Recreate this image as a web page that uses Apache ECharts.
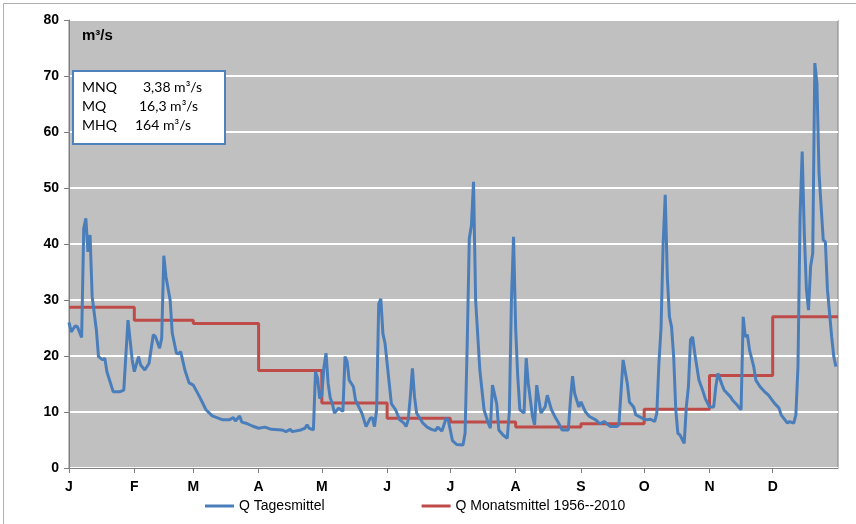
<!DOCTYPE html>
<html>
<head>
<meta charset="utf-8">
<script src="https://cdn.jsdelivr.net/npm/echarts@6/dist/echarts.min.js"></script>
<style>
html,body{margin:0;padding:0;background:#fff;}
#main{width:856px;height:524px;}
</style>
</head>
<body>
<div id="main"></div>
<script>
var monthLetters = ['J','F','M','A','M','J','J','A','S','O','N','D'];
var monthStarts = [0,31,59,90,120,151,181,212,243,273,304,334];
var monthlyMean = [28.7,26.4,25.8,17.4,11.6,8.9,8.2,7.3,7.9,10.5,16.5,27.0];

// day of year (0 = 1 Jan) and daily mean flow
var dailyDays = [0,1,3,4,6,7,8,9,10,11,13,14,16,17,18,21,24,26,28,30,31,33,34,36,38,40,41,43,44,45,46,48,49,51,52,53,55,57,59,62,65,68,73,76,78,79,81,82,84,87,90,93,96,101,103,105,106,110,112,113,114,116,117,118,119,120,121,122,123,124,125,126,128,129,130,131,132,133,135,136,139,141,143,144,145,146,147,148,149,150,152,153,155,157,159,160,161,162,163,164,165,168,170,172,174,175,177,179,180,182,184,187,188,189,190,191,192,193,195,197,199,200,201,203,204,206,208,209,210,211,212,213,214,216,217,218,220,221,222,224,226,227,229,231,232,234,237,238,239,240,242,243,245,247,250,252,254,257,260,261,263,265,266,268,269,272,274,276,278,279,280,281,282,283,284,285,286,287,288,289,290,292,293,294,295,296,297,299,301,302,304,306,307,308,310,311,314,315,317,318,319,320,321,322,323,325,326,328,330,332,334,335,337,338,341,342,344,345,346,347,348,349,350,351,352,353,354,355,356,358,359,360,362,363,364];
var dailyFlow = [26.0,24.3,25.4,25.2,23.3,42.8,44.6,38.6,41.6,30.6,24.6,19.9,19.3,19.6,17.2,13.6,13.6,13.9,26.4,19.3,17.2,19.9,18.4,17.5,18.7,23.8,23.5,21.4,23.2,37.9,34.2,30.0,24.1,20.5,20.4,20.8,17.5,15.2,14.8,12.7,10.4,9.3,8.6,8.6,9.0,8.4,9.3,8.2,8.0,7.5,7.1,7.3,6.9,6.8,6.5,6.9,6.5,6.8,7.1,7.7,7.1,6.8,17.2,16.0,12.4,13.0,18.0,20.5,15.1,12.5,11.5,9.8,10.7,10.4,10.1,19.9,19.0,15.7,14.5,12.1,9.8,7.4,8.9,9.0,7.4,10.4,29.3,30.2,24.0,22.3,15.1,11.5,10.4,8.6,8.0,7.4,8.6,12.7,17.8,12.7,9.8,8.0,7.3,6.9,6.7,7.3,6.6,8.9,8.6,4.9,4.2,4.1,6.2,22.0,41.0,43.3,51.1,30.0,17.5,10.4,8.0,7.1,14.8,11.5,6.8,5.9,5.3,10.0,30.0,41.3,25.0,16.3,10.4,9.8,19.6,15.1,9.2,7.7,14.8,9.8,10.9,13.0,10.4,8.9,8.3,6.8,6.8,12.1,16.4,13.3,10.9,11.8,10.1,9.2,8.6,7.9,8.3,7.4,7.4,7.7,19.3,15.1,11.8,10.9,9.5,8.9,8.6,8.7,8.3,9.8,18.7,25.0,40.0,48.8,34.0,27.0,25.2,19.9,10.4,6.2,5.9,4.4,10.9,14.5,22.9,23.4,20.5,15.7,13.6,12.4,10.9,10.9,14.5,16.9,14.8,13.9,12.7,12.1,11.3,10.8,10.4,27.0,23.4,23.8,21.1,18.1,15.7,14.5,13.7,13.0,12.0,11.5,10.7,9.5,8.0,8.3,8.0,9.5,18.1,45.0,56.5,42.0,32.0,28.2,36.0,38.3,72.3,68.7,52.6,40.7,40.4,31.8,23.4,19.9,18.1];

var yMin = 0, yMax = 80, yStep = 10;

var dailyData = dailyDays.map(function(d, i){ return [d, dailyFlow[i]]; });
var monthlyData = monthStarts.map(function(d, i){ return [d, monthlyMean[i]]; });
monthlyData.push([365, monthlyMean[monthlyMean.length - 1]]);

var myChart = echarts.init(document.getElementById('main'));
var option = {
    backgroundColor: '#ffffff',
    animation: false,
    grid: {
        left: 69, right: 18, top: 20, bottom: 56,
        show: true,
        backgroundColor: '#c0c0c0',
        borderColor: '#7f7f7f',
        borderWidth: 1
    },
    legend: {
        bottom: 6,
        left: 200,
        itemGap: 97,
        itemWidth: 29,
        itemHeight: 3,
        icon: 'rect',
        textStyle: {fontFamily: 'Liberation Sans', fontSize: 14, color: '#000'},
        data: ['Q Tagesmittel', 'Q Monatsmittel 1956--2010']
    },
    xAxis: {
        type: 'value',
        min: 0,
        max: 365,
        splitLine: {show: false},
        axisLine: {show: true, lineStyle: {color: '#7f7f7f'}},
        axisTick: {show: true, length: 5, customValues: monthStarts, lineStyle: {color: '#7f7f7f'}},
        axisLabel: {
            customValues: monthStarts,
            margin: 12,
            fontFamily: 'Liberation Sans',
            fontWeight: 'bold',
            fontSize: 14,
            color: '#000',
            formatter: function(v){ return monthLetters[monthStarts.indexOf(v)]; }
        }
    },
    yAxis: {
        type: 'value',
        min: yMin,
        max: yMax,
        interval: yStep,
        splitLine: {show: true, lineStyle: {color: '#ffffff', width: 2}},
        axisLine: {show: true, lineStyle: {color: '#7f7f7f'}},
        axisTick: {show: true, length: 5, lineStyle: {color: '#7f7f7f'}},
        axisLabel: {margin: 10, fontFamily: 'Liberation Sans', fontWeight: 'bold', fontSize: 14, color: '#000'}
    },
    graphic: [
        {type: 'rect', left: 1, top: 1, z: -10, shape: {width: 853, height: 521},
         style: {fill: 'none', stroke: '#b0b0b0', lineWidth: 1}},
        {type: 'text', left: 82, top: 28, z: 10,
         style: {text: 'm³/s', font: 'bold 15px "Liberation Sans"', fill: '#000'}},
        {type: 'rect', left: 72, top: 70, z: 10, shape: {width: 152, height: 73},
         style: {fill: '#fff', stroke: '#4f81bd', lineWidth: 2}},
        {type: 'text', left: 82, top: 80, z: 11, style: {text: 'MNQ', font: '14px Lato', fill: '#000'}},
        {type: 'text', left: 143, top: 80, z: 11, style: {text: '3,38 m³/s', font: '14px Lato', fill: '#000'}},
        {type: 'text', left: 82, top: 99, z: 11, style: {text: 'MQ', font: '14px Lato', fill: '#000'}},
        {type: 'text', left: 139, top: 99, z: 11, style: {text: '16,3 m³/s', font: '14px Lato', fill: '#000'}},
        {type: 'text', left: 82, top: 118, z: 11, style: {text: 'MHQ', font: '14px Lato', fill: '#000'}},
        {type: 'text', left: 135, top: 118, z: 11, style: {text: '164 m³/s', font: '14px Lato', fill: '#000'}}
    ],
    series: [
        {
            name: 'Q Tagesmittel',
            type: 'line',
            data: dailyData,
            showSymbol: false,
            color: '#4a7ebb',
            lineStyle: {color: '#4a7ebb', width: 3},
            z: 3
        },
        {
            name: 'Q Monatsmittel 1956--2010',
            type: 'line',
            step: 'end',
            data: monthlyData,
            showSymbol: false,
            color: '#be4b48',
            lineStyle: {color: '#be4b48', width: 3},
            z: 2
        }
    ]
};
myChart.setOption(option);
</script>
</body>
</html>
